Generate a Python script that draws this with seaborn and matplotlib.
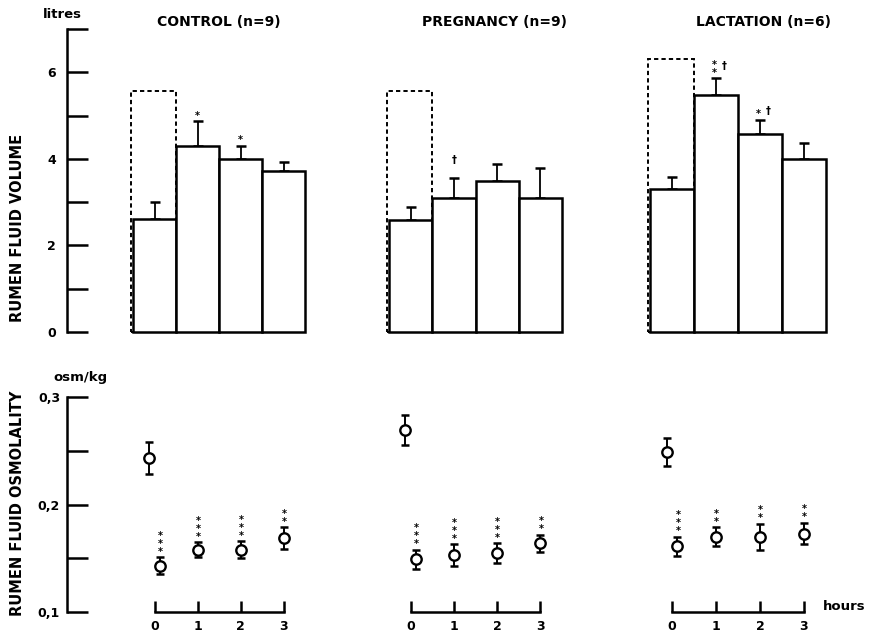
import matplotlib
matplotlib.use("Agg")
import matplotlib.pyplot as plt
import seaborn as sns
import numpy as np

# ---------------- data ----------------
group_titles = ["CONTROL (n=9)", "PREGNANCY (n=9)", "LACTATION (n=6)"]
hours = [0, 1, 2, 3]
hour_labels = ["0", "1", "2", "3"]

# rumen fluid volume (litres): mean and upper SEM
vol_control = [2.6, 4.3, 4.0, 3.72]
vol_control_err = [0.4, 0.57, 0.3, 0.2]
vol_pregnancy = [2.58, 3.1, 3.48, 3.1]
vol_pregnancy_err = [0.3, 0.45, 0.4, 0.68]
vol_lactation = [3.3, 5.47, 4.57, 4.0]
vol_lactation_err = [0.28, 0.39, 0.33, 0.36]
vol_dashed = [5.56, 5.56, 6.3]          # dashed outline at hour 0

vol_sig_control = ["", "*", "*", ""]
vol_sig_pregnancy = ["", "\u2020", "", ""]
vol_sig_lactation = ["", "**\u2020", "*\u2020", ""]

# rumen fluid osmolality (osm/kg): value before, then hours 0..3
osm_pre = [0.243, 0.269, 0.249]
osm_pre_err = [0.015, 0.014, 0.013]
osm_control = [0.143, 0.158, 0.158, 0.169]
osm_control_err = [0.008, 0.007, 0.008, 0.010]
osm_pregnancy = [0.149, 0.153, 0.155, 0.164]
osm_pregnancy_err = [0.009, 0.010, 0.009, 0.008]
osm_lactation = [0.161, 0.170, 0.170, 0.173]
osm_lactation_err = [0.009, 0.009, 0.012, 0.010]

osm_sig_control = ["***", "***", "***", "**"]
osm_sig_pregnancy = ["***", "***", "***", "**"]
osm_sig_lactation = ["***", "**", "**", "**"]

vol_means = [vol_control, vol_pregnancy, vol_lactation]
vol_errs = [vol_control_err, vol_pregnancy_err, vol_lactation_err]
vol_sigs = [vol_sig_control, vol_sig_pregnancy, vol_sig_lactation]
osm_means = [osm_control, osm_pregnancy, osm_lactation]
osm_errs = [osm_control_err, osm_pregnancy_err, osm_lactation_err]
osm_sigs = [osm_sig_control, osm_sig_pregnancy, osm_sig_lactation]

vol_yticks = [0, 1, 2, 3, 4, 5, 6, 7]
vol_yticklabels = ["0", "", "2", "", "4", "", "6", ""]
osm_yticks = [0.1, 0.15, 0.2, 0.25, 0.3]
osm_yticklabels = ["0,1", "", "0,2", "", "0,3"]

# ---------------- style ----------------
sns.set_theme(style="white")
plt.rcParams.update({
    "font.family": ["DejaVu Sans"],
    "font.weight": "bold",
    "axes.edgecolor": "black",
    "text.color": "black",
    "xtick.color": "black",
    "ytick.color": "black",
    "axes.linewidth": 1.8,
})

W, H = 876, 633
fig = plt.figure(figsize=(W / 100, H / 100), dpi=100)
fig.patch.set_facecolor("white")

def rect(x0, x1, yt, yb):
    return [x0 / W, 1 - yb / H, (x1 - x0) / W, (yb - yt) / H]

col_px = [(133, 305), (389, 562), (650, 826)]
top_px = (29, 332)
bot_px = (397, 612)
title_px = [219, 494, 764]
SPINE_OUT = 66 * 0.72  # points from bars to the shared y axis

LW = 1.8
pre_dodge = -0.12
post_dodge = 0.12


def star_stack(ax, x, y, n, dx, dy):
    """n asterisks stacked vertically as one text."""
    ax.annotate("\n".join(["*"] * n), xy=(x, y), xytext=(dx, dy),
                textcoords="offset points", ha="center", va="bottom",
                fontsize=7, linespacing=0.75, annotation_clip=False)


for g in range(3):
    # ---------- volume bars ----------
    ax = fig.add_axes(rect(*col_px[g], *top_px))
    sns.barplot(x=hour_labels, y=vol_means[g], ax=ax, color="white",
                saturation=1, edgecolor="black", linewidth=LW, width=1.0,
                errorbar=None, zorder=2)
    for p in ax.patches:
        p.set_clip_on(False)
    ax.bar(-0.025, vol_dashed[g], width=1.05, fill=False, edgecolor="black",
           linewidth=1.4, linestyle=(0, (2.2, 1.6)), zorder=1, clip_on=False)
    ax.errorbar(hours, vol_means[g],
                yerr=[np.zeros(4), vol_errs[g]], fmt="none", ecolor="black",
                elinewidth=1.3, capsize=3.6, capthick=1.8, zorder=1.5,
                clip_on=False)
    tops = np.array(vol_means[g]) + np.array(vol_errs[g])
    for i, s in enumerate(vol_sigs[g]):
        if not s:
            continue
        n_star = s.count("*")
        dag = "\u2020" in s
        sdx, ddx = (-1.5, 6.0) if (n_star and dag) else (0.0, 0.0)
        if n_star:
            star_stack(ax, hours[i], tops[i], n_star, sdx, 0.5)
        if dag:
            off = 4.5 + (n_star - 1) * 2.5 if n_star else 11.0
            ax.annotate("\u2020", xy=(hours[i], tops[i]),
                        xytext=(ddx, off), textcoords="offset points",
                        ha="center", va="baseline", fontsize=7,
                        annotation_clip=False)
    ax.set_xlim(-0.5, 3.5)
    ax.set_ylim(0, 7)
    ax.set_xlabel("")
    ax.set_ylabel("")
    ax.set_facecolor("none")
    for sp in ["top", "right", "bottom"]:
        ax.spines[sp].set_visible(False)
    ax.tick_params(axis="x", bottom=False, labelbottom=False)
    if g == 0:
        ax.spines["left"].set_position(("outward", SPINE_OUT))
        ax.spines["left"].set_linewidth(LW)
        ax.set_yticks(vol_yticks)
        ax.set_yticklabels(vol_yticklabels, fontsize=9, fontweight="bold")
        ax.tick_params(axis="y", direction="in", length=15, width=LW, pad=8,
                       left=True)
    else:
        ax.spines["left"].set_visible(False)
        ax.tick_params(axis="y", left=False, labelleft=False)

    # ---------- osmolality points ----------
    bx = fig.add_axes(rect(*col_px[g], *bot_px))
    xs = [hours[0] + pre_dodge, hours[0] + post_dodge] + hours[1:]
    ys = [osm_pre[g]] + osm_means[g]
    es = [osm_pre_err[g]] + osm_errs[g]
    bx.errorbar(xs, ys, yerr=es, fmt="none", ecolor="black", elinewidth=1.4,
                capsize=3.2, capthick=1.8, zorder=2)
    sns.scatterplot(x=xs, y=ys, ax=bx, marker="o", s=56, color="white",
                    edgecolor="black", linewidth=1.7, zorder=3, legend=False)
    for i, s in enumerate(osm_sigs[g]):
        xi = xs[i + 1]
        top = osm_means[g][i] + osm_errs[g][i]
        star_stack(bx, xi, top, len(s), 0.5, 0.3)
    bx.set_xlim(-0.5, 3.5)
    bx.set_ylim(0.1, 0.3)
    bx.set_facecolor("none")
    for sp in ["top", "right"]:
        bx.spines[sp].set_visible(False)
    bx.spines["bottom"].set_bounds(0, 3)
    bx.spines["bottom"].set_linewidth(LW)
    bx.set_xticks(hours)
    bx.set_xticklabels(hour_labels, fontsize=9, fontweight="bold")
    bx.tick_params(axis="x", direction="in", length=8, width=LW, pad=6,
                   bottom=True)
    if g == 0:
        bx.spines["left"].set_position(("outward", SPINE_OUT))
        bx.spines["left"].set_linewidth(LW)
        bx.set_yticks(osm_yticks)
        bx.set_yticklabels(osm_yticklabels, fontsize=9, fontweight="bold")
        bx.tick_params(axis="y", direction="in", length=15, width=LW, pad=5,
                       left=True)
    else:
        bx.spines["left"].set_visible(False)
        bx.tick_params(axis="y", left=False, labelleft=False)
    if g == 2:
        bx.text(3.42, 0.105, "hours", ha="left", va="center", fontsize=9.5,
                fontweight="bold", clip_on=False)

    fig.text(title_px[g] / W, 1 - 22 / H, group_titles[g], ha="center",
             va="center", fontsize=10, fontweight="bold")

fig.text(62 / W, 1 - 15 / H, "litres", ha="center", va="center",
         fontsize=9.5, fontweight="bold")
fig.text(80 / W, 1 - 378 / H, "osm/kg", ha="center", va="center",
         fontsize=9.5, fontweight="bold")
fig.text(18 / W, 1 - 228 / H, "RUMEN FLUID VOLUME", rotation=90,
         ha="center", va="center", fontsize=10.5, fontweight="bold")
fig.text(18 / W, 1 - 503 / H, "RUMEN FLUID OSMOLALITY", rotation=90,
         ha="center", va="center", fontsize=10.5, fontweight="bold")

fig.savefig("out.png", dpi=100, facecolor="white")
